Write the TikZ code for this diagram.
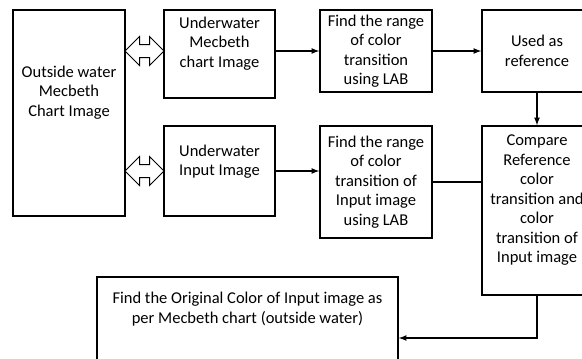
\documentclass[tikz,border=0pt]{standalone}
\usepackage{fontspec}
\setmainfont{Carlito}
\usepackage{tikz}
\usetikzlibrary{shapes, arrows, positioning, calc}

\begin{document}
\begin{tikzpicture}[x=1pt, y=-1pt,
    box/.style={draw, line width=1.6pt, align=center, inner sep=2pt,
        font=\fontsize{16.5}{19.5}\selectfont},
    dblarrow/.style={draw, line width=1pt, double arrow, inner sep=6pt,
        double arrow head extend=8pt, double arrow head indent=0pt,
        minimum height=39pt},
    link/.style={line width=1.6pt},
    >=latex]
    \useasboundingbox (0,0) rectangle (582,359);
    \clip (0,0) rectangle (582,359);

    \node[box, minimum width=112, minimum height=206, text depth=43.5pt] (outside) at (69,113)
        {Outside water\\Mecbeth\\Chart Image};
    \node[box, minimum width=111, minimum height=88, text depth=23.5pt] (uwchart) at (219.5,54)
        {Underwater\\Mecbeth\\chart Image};
    \node[box, minimum width=111, minimum height=90, text depth=21.5pt] (uwinput) at (219.5,171)
        {Underwater\\Input Image};
    \node[box, minimum width=112, minimum height=82] (range1) at (376,51)
        {Find the range\\of color\\transition\\using LAB};
    \node[box, minimum width=110, minimum height=82] (usedref) at (537,51)
        {Used as\\reference};
    \node[box, minimum width=112, minimum height=112] (range2) at (376,182)
        {Find the range\\of color\\transition of\\Input image\\using LAB};
    \node[box, minimum width=110, minimum height=169, text depth=23.5pt] (compare) at (537,210.5)
        {Compare\\Reference\\color\\transition and\\color\\transition of\\Input image};
    \node[box, minimum width=301, minimum height=122, text depth=60pt] (final) at (247.5,338)
        {Find the Original Color of Input image as\\per Mecbeth chart (outside water)};

    % links to the outside chart
    \node[dblarrow] (link1) at (144.5,51) {};
    \node[dblarrow] (link2) at (144.5,171) {};

    \draw[link, ->] (range1.west -| uwchart.east) -- (range1.west);
    \draw[link, ->] (range1.east) -- (usedref.west);
    \draw[link, ->] (usedref.south) -- (compare.north);
    \draw[link, ->] (uwinput.east) -- (uwinput.east -| range2.west);
    \draw[link] (range2.east) -- (range2.east -| compare.west);
    \draw[link, ->] (compare.south) |- (final.east);
\end{tikzpicture}
\end{document}
